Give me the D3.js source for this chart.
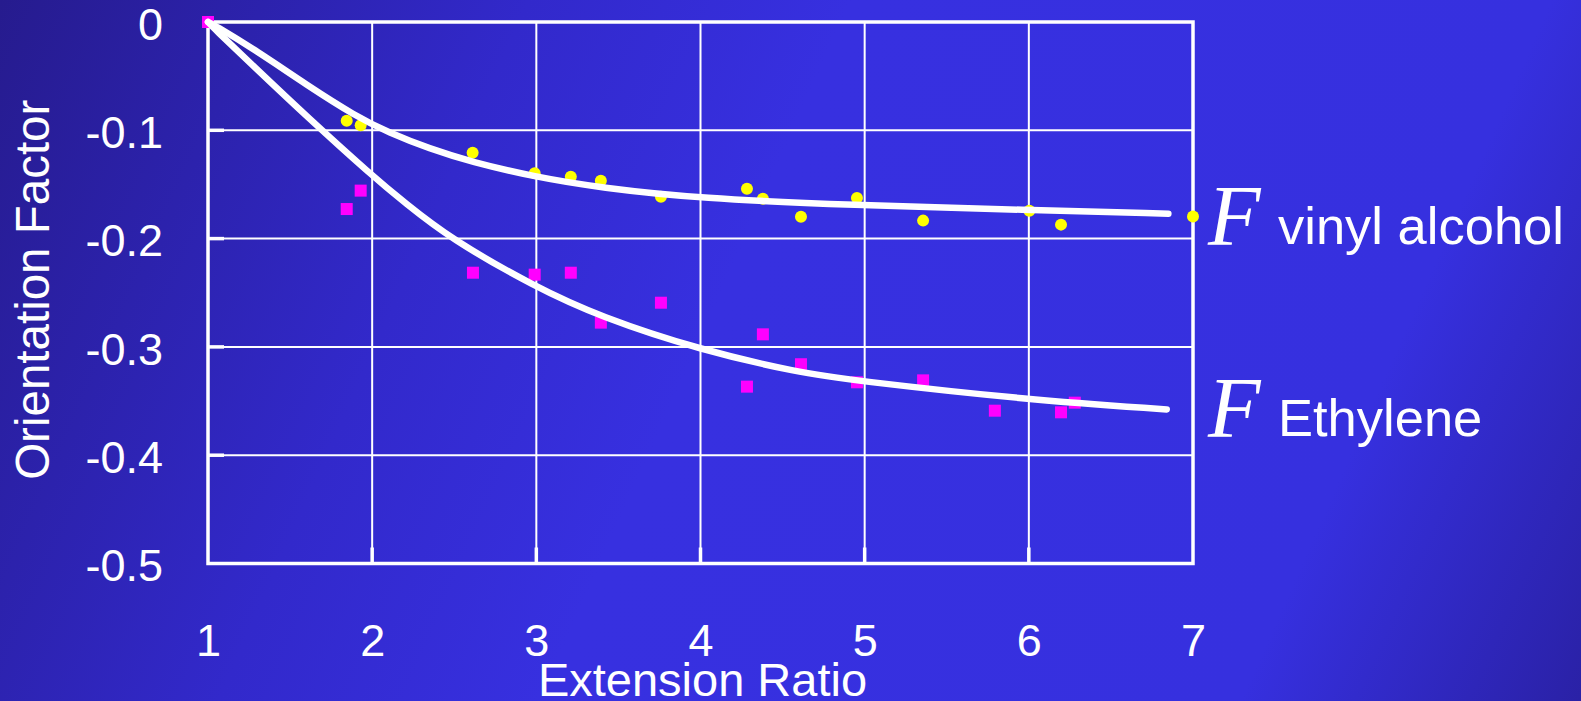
<!DOCTYPE html>
<html>
<head>
<meta charset="utf-8">
<script src="https://cdn.jsdelivr.net/npm/d3@7"></script>
<style>
  html, body { margin: 0; padding: 0; overflow: hidden; background: #3530df; }
  svg { display: block; }
</style>
</head>
<body>
<svg id="chart" width="1581" height="701"></svg>
<script>
// ---- data ----
const xTicks = [1, 2, 3, 4, 5, 6, 7];
const yTicks = [0, -0.1, -0.2, -0.3, -0.4, -0.5];
const yTickLabels = ["0", "-0.1", "-0.2", "-0.3", "-0.4", "-0.5"];

// measured points: vinyl alcohol (yellow circles)
const vinylX = [1.845, 1.93, 2.612, 2.99, 3.21, 3.393, 3.759, 4.283, 4.38, 4.612, 4.953, 5.356, 6.003, 6.196, 7.0];
const vinylY = [-0.0911, -0.0954, -0.1207, -0.1397, -0.1428, -0.1465, -0.1613, -0.1539, -0.1631, -0.1798, -0.1625, -0.1834, -0.1742, -0.1871, -0.1797];

// measured points: ethylene (magenta squares)
const ethX = [1.0, 1.845, 1.93, 2.614, 2.99, 3.21, 3.393, 3.759, 4.283, 4.38, 4.612, 4.953, 5.356, 5.793, 6.196, 6.28];
const ethY = [0.0, -0.1727, -0.1557, -0.2315, -0.2333, -0.2315, -0.2776, -0.2592, -0.3367, -0.2884, -0.316, -0.3327, -0.3309, -0.3589, -0.3604, -0.3515];

// fitted curves
const vinylCurveX = [1.0, 1.03, 1.3, 1.6, 1.9, 2.1, 2.35, 2.6, 2.99, 3.387, 4.0, 4.91, 6.0, 6.85];
const vinylCurveY = [0.0, -0.002, -0.027, -0.058, -0.087, -0.102, -0.117, -0.129, -0.143, -0.153, -0.163, -0.169, -0.1736, -0.177];
const ethCurveX = [1.0, 1.03, 1.3, 1.6, 2.0, 2.2, 2.474, 2.99, 3.387, 4.0, 4.605, 4.91, 6.0, 6.84];
const ethCurveY = [0.0, -0.005, -0.044, -0.087, -0.142, -0.167, -0.1998, -0.2444, -0.2721, -0.3029, -0.3238, -0.3306, -0.349, -0.3577];

const seriesLabels = ["vinyl alcohol", "Ethylene"];
const xTitle = "Extension Ratio";
const yTitle = "Orientation Factor";

// ---- layout ----
const W = 1581, H = 701;
const mLeft = 208, mRight = 1193, mTop = 22, mBottom = 563.5;

const svg = d3.select("#chart");
const defs = svg.append("defs");
const grad = defs.append("linearGradient").attr("id", "bg")
  .attr("gradientUnits", "userSpaceOnUse")
  .attr("x1", 0).attr("y1", 0).attr("x2", W).attr("y2", H);
grad.append("stop").attr("offset", 0).attr("stop-color", "#261b8e");
grad.append("stop").attr("offset", 0.28).attr("stop-color", "#3229cb");
grad.append("stop").attr("offset", 0.45).attr("stop-color", "#3730e0");
grad.append("stop").attr("offset", 0.82).attr("stop-color", "#3630df");
grad.append("stop").attr("offset", 1).attr("stop-color", "#2a21a6");
svg.append("rect").attr("width", W).attr("height", H).attr("fill", "url(#bg)");

const x = d3.scaleLinear().domain([1, 7]).range([mLeft, mRight]);
const y = d3.scaleLinear().domain([-0.5, 0]).range([mBottom, mTop]);

// gridlines
const gGrid = svg.append("g").attr("stroke", "#fff").attr("stroke-width", 2);
gGrid.selectAll("line.v").data(xTicks.slice(1, -1)).join("line").attr("class", "v")
  .attr("x1", d => x(d)).attr("x2", d => x(d)).attr("y1", mTop).attr("y2", mBottom);
gGrid.selectAll("line.h").data(yTicks.slice(1, -1)).join("line").attr("class", "h")
  .attr("x1", mLeft).attr("x2", mRight).attr("y1", d => y(d)).attr("y2", d => y(d));

// inner tick marks (thicker, short)
const gTicks = svg.append("g").attr("stroke", "#fff").attr("stroke-width", 3.5);
gTicks.selectAll("line.yt").data(yTicks.slice(1, -1)).join("line").attr("class", "yt")
  .attr("x1", mLeft).attr("x2", mLeft + 16).attr("y1", d => y(d)).attr("y2", d => y(d));
gTicks.selectAll("line.xt").data(xTicks.slice(1, -1)).join("line").attr("class", "xt")
  .attr("x1", d => x(d)).attr("x2", d => x(d)).attr("y1", mBottom).attr("y2", mBottom - 16);

// frame
svg.append("rect").attr("x", mLeft).attr("y", mTop).attr("width", mRight - mLeft).attr("height", mBottom - mTop)
  .attr("fill", "none").attr("stroke", "#fff").attr("stroke-width", 3.5);

// axes labels via d3 axes (no domain / tick lines)
const yAxis = d3.axisLeft(y).tickValues(yTicks).tickFormat((d, i) => yTickLabels[i]).tickSize(0).tickPadding(45);
const gy = svg.append("g").attr("transform", `translate(${mLeft},0)`).call(yAxis);
gy.select(".domain").remove();
gy.selectAll("text").attr("fill", "#fff").attr("font-family", "'Liberation Sans', Arial, sans-serif")
  .attr("font-size", 45).attr("dy", "0.38em");

const xAxis = d3.axisBottom(x).tickValues(xTicks).tickFormat(d3.format("d")).tickSize(0).tickPadding(0);
const gx = svg.append("g").attr("transform", `translate(0,${mBottom})`).call(xAxis);
gx.select(".domain").remove();
gx.selectAll("text").attr("fill", "#fff").attr("font-family", "'Liberation Sans', Arial, sans-serif")
  .attr("font-size", 45).attr("y", 92).attr("dy", 0);

// axis titles
svg.append("text").attr("x", (mLeft + mRight) / 2 + 2).attr("y", 696)
  .attr("text-anchor", "middle").attr("fill", "#fff")
  .attr("font-family", "'Liberation Sans', Arial, sans-serif").attr("font-size", 47)
  .text(xTitle);
svg.append("text").attr("transform", `translate(49,${(mTop + mBottom) / 2 - 3}) rotate(-90)`)
  .attr("text-anchor", "middle").attr("fill", "#fff")
  .attr("font-family", "'Liberation Sans', Arial, sans-serif").attr("font-size", 47.5)
  .text(yTitle);

// markers
const vinylPts = vinylX.map((v, i) => [v, vinylY[i]]);
const ethPts = ethX.map((v, i) => [v, ethY[i]]);
svg.append("g").selectAll("circle").data(vinylPts).join("circle")
  .attr("cx", d => x(d[0])).attr("cy", d => y(d[1])).attr("r", 6).attr("fill", "#ffff00");
const s = 12;
svg.append("g").selectAll("rect").data(ethPts).join("rect")
  .attr("x", d => x(d[0]) - s / 2).attr("y", d => y(d[1]) - s / 2)
  .attr("width", s).attr("height", s).attr("fill", "#ff00ff");

// curves
const line = d3.line().x(d => x(d[0])).y(d => y(d[1])).curve(d3.curveBasis);
const vinylCurve = vinylCurveX.map((v, i) => [v, vinylCurveY[i]]);
const ethCurve = ethCurveX.map((v, i) => [v, ethCurveY[i]]);
svg.append("path").datum(vinylCurve).attr("d", line).attr("fill", "none")
  .attr("stroke", "#fff").attr("stroke-width", 6.5).attr("stroke-linecap", "round");
svg.append("path").datum(ethCurve).attr("d", line).attr("fill", "none")
  .attr("stroke", "#fff").attr("stroke-width", 6.5).attr("stroke-linecap", "round");

// series labels
const labelY = [244, 436];
seriesLabels.forEach((lab, i) => {
  svg.append("text").attr("x", 1208).attr("y", labelY[i] + 1)
    .attr("fill", "#fff").attr("font-family", "'Liberation Serif', 'Times New Roman', serif")
    .attr("font-style", "italic").attr("font-size", 86).text("F");
  svg.append("text").attr("x", 1278).attr("y", labelY[i])
    .attr("fill", "#fff").attr("font-family", "'Liberation Sans', Arial, sans-serif")
    .attr("font-size", 52.5).text(lab);
});
</script>
</body>
</html>
